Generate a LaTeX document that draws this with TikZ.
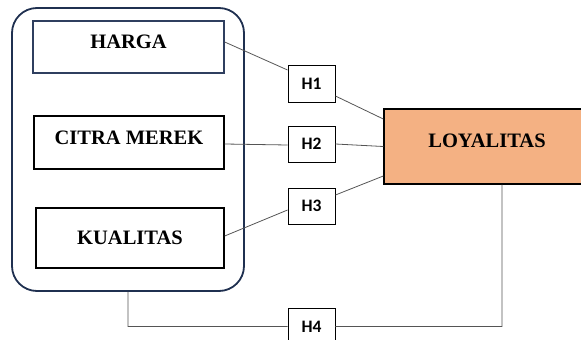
\documentclass[tikz,border=0pt]{standalone}
\usepackage{fontspec}
\setmainfont{Liberation Serif}
\newfontfamily\hypfont{Carlito}
\definecolor{framecol}{RGB}{31,48,80}
\definecolor{hargacol}{RGB}{47,63,95}
\definecolor{loyfill}{RGB}{244,177,131}
\definecolor{linkcol}{RGB}{85,85,85}
\begin{document}
\begin{tikzpicture}[x=1pt,y=-1pt,
        var node/.style={draw,line width=1.4pt,font=\fontsize{20.5}{24}\selectfont\bfseries},
        hyp node/.style={draw,line width=0.9pt,minimum width=47pt,minimum height=36pt,
                         font=\hypfont\fontsize{17.5}{20}\selectfont\bfseries},
        link/.style={draw=linkcol,line width=0.8pt}]
    \useasboundingbox (0,0) rectangle (581,340);

    % Define vertices
    \node[draw=framecol,line width=1.8pt,rounded corners=25pt,
          minimum width=232pt,minimum height=283pt] (group) at (128,149.5) {};
    \node[var node,draw=hargacol,minimum width=191pt,minimum height=52pt,text depth=10pt] (harga) at (128.5,47) {HARGA};
    \node[var node,minimum width=190pt,minimum height=53pt,text depth=10pt] (citra) at (129,142.5) {CITRA MEREK};
    \node[var node,minimum width=188pt,minimum height=60pt] (kualitas) at (130,238) {KUALITAS};
    \node[var node,fill=loyfill,minimum width=206pt,minimum height=75pt,text depth=12pt] (loyal) at (487,146.5) {LOYALITAS};
    \node[hyp node,minimum height=37pt] (h1) at (311.5,83.5) {H1};
    \node[hyp node] (h2) at (311.5,144) {H2};
    \node[hyp node] (h3) at (311.5,206) {H3};
    \node[hyp node,minimum height=37pt] (h4) at (311.5,326.5) {H4};

    % Draw edges
    \path[link]
        ([yshift=5pt]harga.east) -- ([yshift=13.5pt]h1.west)
        ([yshift=-12.5pt]h1.east) -- ([yshift=27.5pt]loyal.west)
        ([yshift=-1.5pt]citra.east) -- ([yshift=-1pt]h2.west)
        (h2.east) -- (loyal.west)
        ([yshift=2pt]kualitas.east) -- ([yshift=-4pt]h3.west)
        ([yshift=11pt]h3.east) -- ([yshift=-29.5pt]loyal.west)
        (group.south) |- (h4.west)
        (h4.east) -| ([xshift=15pt]loyal.south);
\end{tikzpicture}
\end{document}
